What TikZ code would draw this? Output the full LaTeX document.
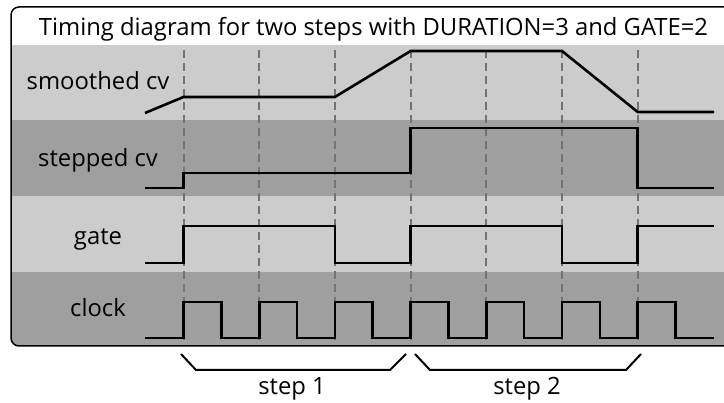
\documentclass[tikz,border=0pt]{standalone}
\usepackage{fontspec}
\setmainfont{Open Sans}
\begin{document}
\begin{tikzpicture}[x=1pt,y=-1pt,
  sig/.style={line width=2.6pt,line join=miter,line cap=butt},
  grid/.style={draw=black!55,line width=2pt,dash pattern=on 8pt off 5pt},
  lbl/.style={font=\fontsize{23.8}{26}\selectfont,anchor=base,inner sep=0pt},
  brace/.style={line width=2pt}]
\useasboundingbox (0,0) rectangle (724,403);
\definecolor{lightband}{HTML}{CCCCCC}
\definecolor{darkband}{HTML}{9F9F9F}
\begin{scope}
  \clip[rounded corners=8pt] (11,7) rectangle (760,346);
  \fill[white] (11,7) rectangle (760,45);
  \fill[lightband] (11,45) rectangle (760,120);
  \fill[darkband] (11,120) rectangle (760,196);
  \fill[lightband] (11,196) rectangle (760,272);
  \fill[darkband] (11,272) rectangle (760,346);
\end{scope}
\draw[line width=1.5pt,rounded corners=8pt] (760,7) -- (11,7) -- (11,346) -- (760,346);
% dashed grid
\foreach \i/\x in {0/183.5,1/259.2,2/334.9,3/410.6,4/486.3,5/562,6/637.7}{
  \coordinate (gt\i) at (\x,50);
  \coordinate (gb\i) at (\x,340);
  \draw[grid] (gt\i) -- (gb\i);
}
% signals
\draw[sig] (145,113) -- (183.5,97) -- (334.9,97) -- (410.6,51) -- (562,51) -- (637.7,112) -- (714,112);
\draw[sig] (145,188) -- (183.5,188) -- (183.5,173) -- (410.6,173) -- (410.6,128) -- (637.7,128) -- (637.7,188) -- (714,188);
\draw[sig] (145,263) -- (183.5,263) -- (183.5,226) -- (334.9,226) -- (334.9,263) -- (410.6,263) -- (410.6,226) -- (562,226) -- (562,263) -- (637.7,263) -- (637.7,226) -- (714,226);
\draw[sig] (145,338) -- (183.5,338)
  \foreach \x in {183.5,259.2,334.9,410.6,486.3,562,637.7}{
    -- (\x,338) -- (\x,302) -- ({\x+37.85},302) -- ({\x+37.85},338)
  } -- (714,338);
% labels
\node[lbl] (title) at (373.5,35.5) {Timing diagram for two steps with DURATION=3 and GATE=2};
\node[lbl] (smooth) at (98,90) {smoothed cv};
\node[lbl] (stepped) at (98,166.5) {stepped cv};
\node[lbl] (gate) at (98,245) {gate};
\node[lbl] (clock) at (98,316.5) {clock};
% braces
\draw[brace] (181,354) -- (196,370) -- (390,370) -- (406,354);
\draw[brace] (415,354) -- (430,370) -- (626,370) -- (641,354);
\node[lbl] (s1) at (292,395) {step 1};
\node[lbl] (s2) at (527,395) {step 2};
\end{tikzpicture}
\end{document}
